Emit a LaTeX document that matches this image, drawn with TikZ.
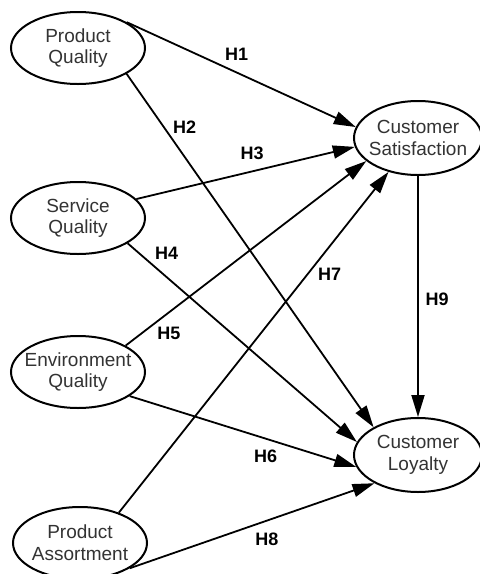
\documentclass[tikz,border=0pt]{standalone}
\usepackage{fontspec}
\setmainfont{Liberation Sans}
\usetikzlibrary{shapes.geometric,arrows.meta}

\begin{document}
\begin{tikzpicture}[x=0.5pt,y=-0.5pt,
    construct/.style={ellipse, draw, line width=1pt, fill=white, inner sep=-8pt,
      minimum width=67pt, minimum height=36pt, align=center,
      text=black!80, font=\fontsize{9.5}{10.8}\selectfont},
    hypo/.style={line width=0.9pt, -{Triangle[length=11pt,width=6.5pt]}},
    hlabel/.style={font=\fontsize{9}{10}\selectfont\bfseries}]
   \useasboundingbox (0,0) rectangle (480,574);
   \node[construct] (PQ) at (78,48)  {Product\\Quality};
   \node[construct] (SQ) at (78,218) {Service\\Quality};
   \node[construct] (EQ) at (78,372) {Environment\\Quality};
   \node[construct] (PA) at (80,543) {Product\\Assortment};
   \node[construct, minimum width=64pt, minimum height=37pt] (CS) at (418,138) {Customer\\Satisfaction};
   \node[construct, minimum width=64pt, minimum height=37pt] (CL) at (418,455) {Customer\\Loyalty};
   \draw[hypo] (PQ.28)  to node[hlabel, pos=0.48, above=2.3pt]  (h1) {H1} (CS.170);
   \draw[hypo] (PQ.-28) to node[hlabel, pos=0.15, right=0.9pt]  (h2) {H2} (CL.148);
   \draw[hypo] (SQ.18)  to node[hlabel, pos=0.53, above=2.2pt]  (h3) {H3} (CS.188);
   \draw[hypo] (SQ.-27) to node[hlabel, pos=0.17, above=5pt]    (h4) {H4} (CL.168);
   \draw[hypo] (EQ.29)  to node[hlabel, pos=0.18, below=3.4pt]  (h5) {H5} (CS.204);
   \draw[hypo] (EQ.-25) to node[hlabel, pos=0.6, below=1.7pt]   (h6) {H6} (CL.191);
   \draw[hypo] (PA.38)  to node[hlabel, pos=0.7, right=1.4pt]   (h7) {H7} (CS.229);
   \draw[hypo] (PA.-27) to node[hlabel, pos=0.56, below=2.3pt]  (h8) {H8} (CL.213);
   \draw[hypo] (CS)     to node[hlabel, pos=0.51, right=0pt]    (h9) {H9} (CL);
\end{tikzpicture}
\end{document}
